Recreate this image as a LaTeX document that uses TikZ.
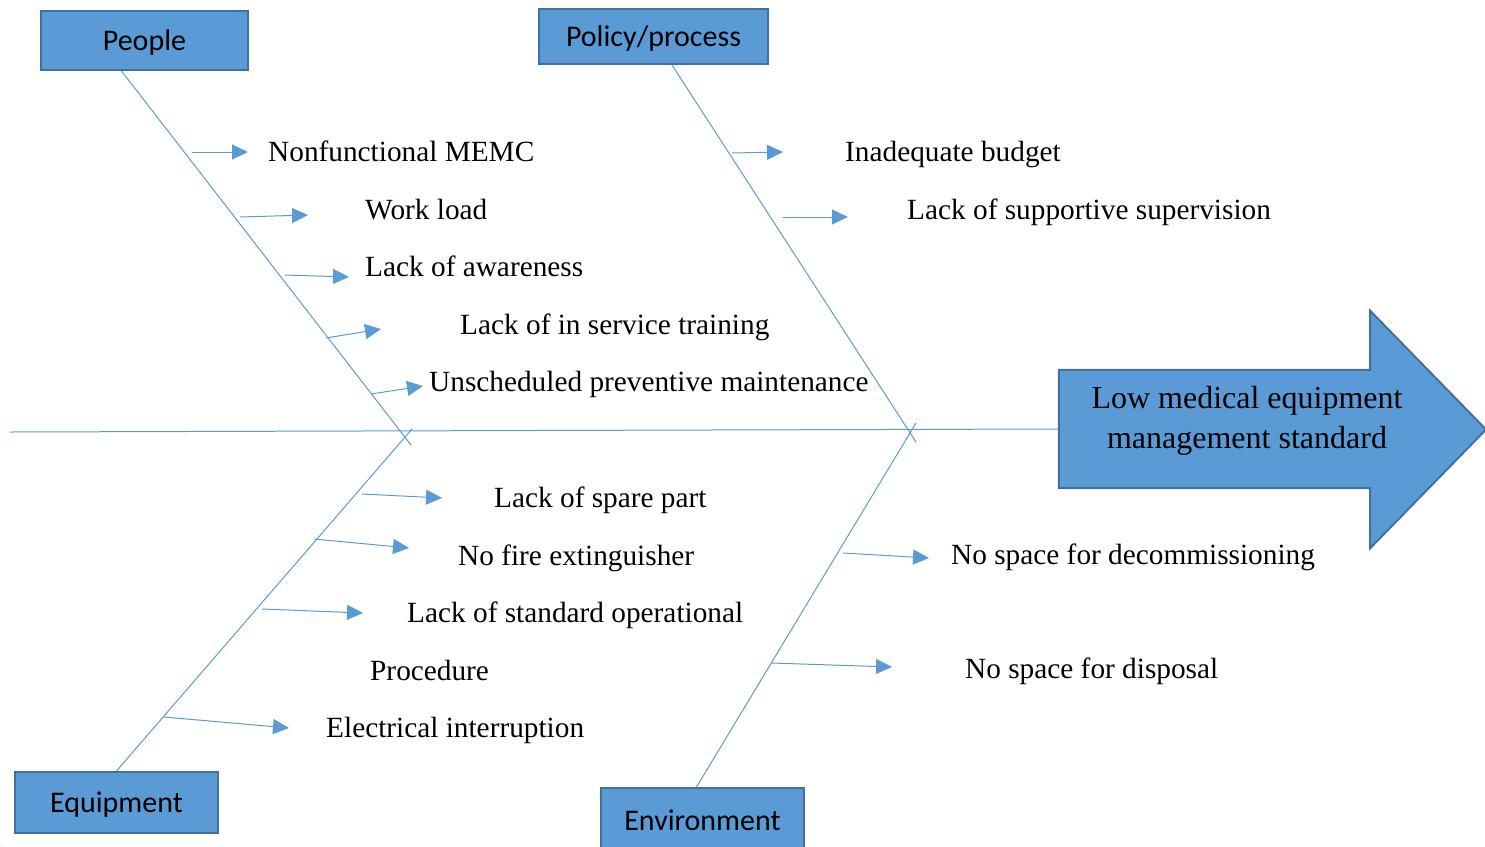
\documentclass[tikz,border=0pt]{standalone}
\usepackage{fontspec}
\setmainfont{Liberation Serif}
\newfontfamily\boxfont{Carlito}
\usepackage{tikz}
\usetikzlibrary{arrows.meta, calc}
\definecolor{boneblue}{HTML}{5B9BD5}
\definecolor{edgeblue}{HTML}{41719C}

\begin{document}
\begin{tikzpicture}[
    x=1pt, y=-1pt,
    category/.style={draw=edgeblue, line width=2pt, fill=boneblue, inner sep=0pt, text depth=0pt,
                     font=\boxfont\fontsize{30}{34}\selectfont},
    cause/.style={anchor=base west, inner sep=0pt, font=\fontsize{29.3}{34}\selectfont},
    bone/.style={draw=boneblue, line width=1pt},
    twig/.style={bone, -{Triangle[length=16pt, width=15pt]}}
]

\useasboundingbox (0,0) rectangle (1485,846);

\node[category, minimum width=207pt, minimum height=59pt] (people) at (144.5,40.5) {People};
\node[category, minimum width=229pt, minimum height=55pt] (policy) at (653.5,36.5) {Policy/process};
\node[category, minimum width=203pt, minimum height=61pt] (equipment) at (116.5,802.5) {Equipment};
\node[category, minimum width=203pt, minimum height=70pt, text depth=6pt] (environment) at (702.5,823) {Environment};

\node[minimum width=311pt, minimum height=118pt, inner sep=0pt] (effect) at (1214.5,429) {};
\coordinate (tail) at (10,432);
\draw[bone] (tail) -- (effect.west);
\filldraw[fill=boneblue, draw=edgeblue, line width=2pt]
    (effect.south west) -- (effect.north west) -- (effect.north east) -- ++(0,-59)
    -- (1486,429.5) -- ($(effect.south east)+(0,60)$) -- (effect.south east) -- cycle;
\node[align=center, inner sep=0pt, font=\fontsize{32}{40}\selectfont] (effecttext) at (1247,421)
    {Low medical equipment\\management standard};

\coordinate (peopleend) at (411,445);
\coordinate (policyend) at (916,442);
\coordinate (equipmentend) at (412,429);
\coordinate (environmentend) at (916,423);
\draw[bone] ($(people.south west)!0.39!(people.south east)$) -- (peopleend);
\draw[bone] ($(policy.south west)!0.58!(policy.south east)$) -- (policyend);
\draw[bone] (equipment.north) -- (equipmentend);
\draw[bone] ($(environment.north)+(-6,0)$) -- (environmentend);

\node[cause] (nonfunc) at (268,161) {Nonfunctional MEMC};
\node[cause] (workload) at (365,219) {Work load};
\node[cause] (awareness) at (365,276) {Lack of awareness};
\node[cause] (training) at (460,334) {Lack of in service training};
\node[cause] (unscheduled) at (429,391) {Unscheduled preventive maintenance};
\node[cause] (budget) at (845,161) {Inadequate budget};
\node[cause] (supervision) at (907,219) {Lack of supportive supervision};
\node[cause] (spare) at (494,507) {Lack of spare part};
\node[cause] (fire) at (458,565) {No fire extinguisher};
\node[cause] (standard) at (407,622) {Lack of standard operational};
\node[cause] (procedure) at (370,680) {Procedure};
\node[cause] (electrical) at (326,737) {Electrical interruption};
\node[cause] (decommission) at (951,564) {No space for decommissioning};
\node[cause] (disposal) at (965,678) {No space for disposal};

\coordinate (pc1) at (192,152);  \coordinate (pt1) at (248,152);
\coordinate (pc2) at (240,217);  \coordinate (pt2) at (308,215);
\coordinate (pc3) at (285,275);  \coordinate (pt3) at (349,277);
\coordinate (pc4) at (326,338);  \coordinate (pt4) at (381,329);
\coordinate (pc5) at (371,394);  \coordinate (pt5) at (423,386);
\coordinate (qc1) at (732,153);  \coordinate (qt1) at (783,152);
\coordinate (qc2) at (783,217);  \coordinate (qt2) at (848,217);
\coordinate (ec1) at (362,494);  \coordinate (et1) at (442,498);
\coordinate (ec2) at (314,539);  \coordinate (et2) at (409,548);
\coordinate (ec3) at (262,609);  \coordinate (et3) at (363,613);
\coordinate (ec4) at (164,717);  \coordinate (et4) at (289,728);
\coordinate (vc1) at (843,553);  \coordinate (vt1) at (929,558);
\coordinate (vc2) at (771,663);  \coordinate (vt2) at (892,667);

\draw[twig] (pc1) -- (pt1);
\draw[twig] (pc2) -- (pt2);
\draw[twig] (pc3) -- (pt3);
\draw[twig] (pc4) -- (pt4);
\draw[twig] (pc5) -- (pt5);
\draw[twig] (qc1) -- (qt1);
\draw[twig] (qc2) -- (qt2);
\draw[twig] (ec1) -- (et1);
\draw[twig] (ec2) -- (et2);
\draw[twig] (ec3) -- (et3);
\draw[twig] (ec4) -- (et4);
\draw[twig] (vc1) -- (vt1);
\draw[twig] (vc2) -- (vt2);

\end{tikzpicture}
\end{document}
